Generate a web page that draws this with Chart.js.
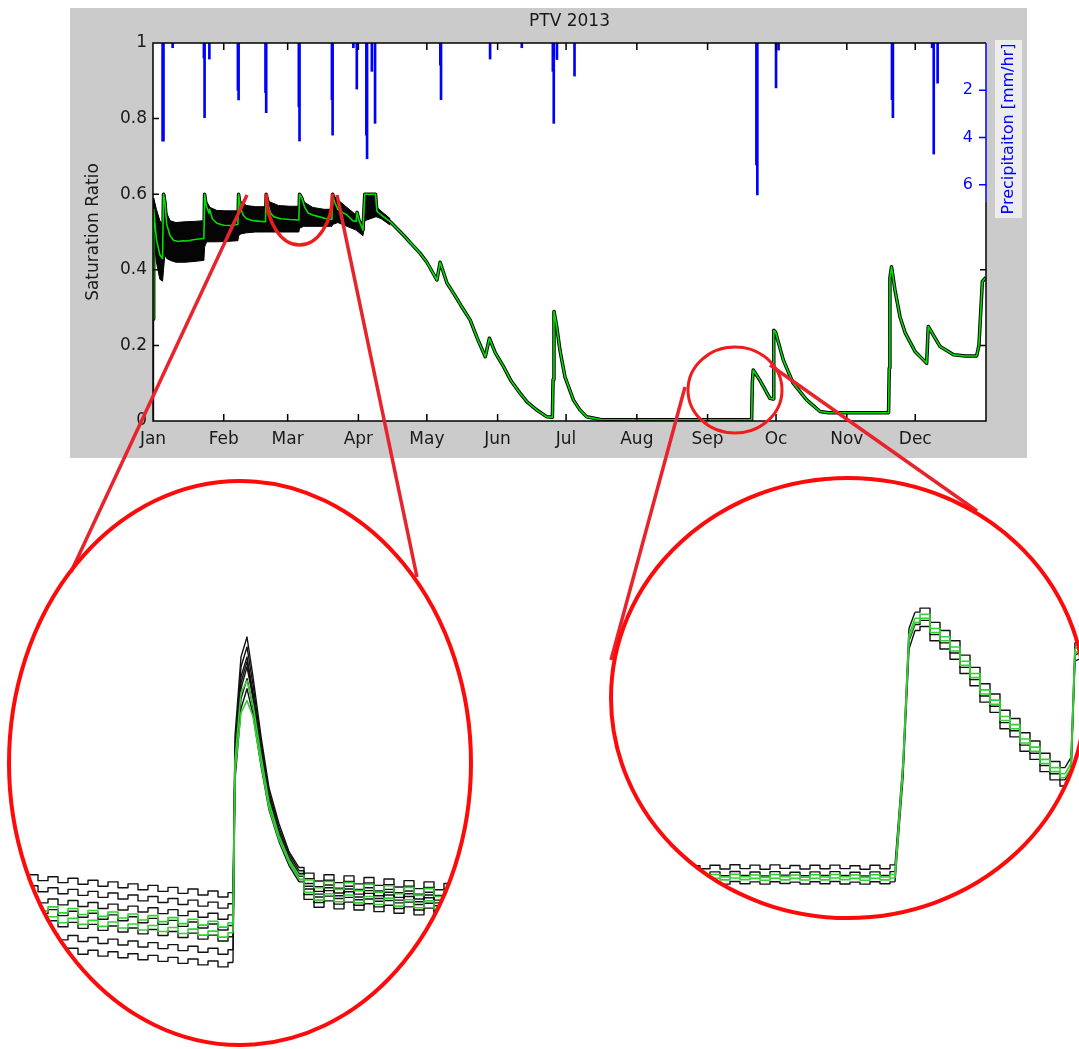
<!DOCTYPE html>
<html>
<head>
<meta charset="utf-8">
<title>PTV 2013</title>
<script src="https://cdn.jsdelivr.net/npm/chart.js@4.4.1/dist/chart.umd.min.js"></script>
<style>
  html, body { margin: 0; padding: 0; background: #fff; }
  #page { position: relative; width: 1079px; height: 1049px; overflow: hidden; }
  canvas { position: absolute; }
  #main { left: 70px; top: 8px; }
  #zoomA { left: 8px; top: 480px; clip-path: ellipse(230px 281px at 232px 283px); }
  #zoomB { left: 610px; top: 477px; clip-path: ellipse(236px 219px at 238px 221px); }
  svg { position: absolute; left: 0; top: 0; }
</style>
</head>
<body>
<div id="page">
  <canvas id="main" width="957" height="450"></canvas>
  <canvas id="zoomA" width="465" height="566"></canvas>
  <canvas id="zoomB" width="469" height="442"></canvas>
  <svg width="1079" height="1049">
    <defs><clipPath id="below06"><rect x="0" y="194" width="1079" height="900"/></clipPath></defs>
    <g fill="none">
      <ellipse cx="299.5" cy="195" rx="33" ry="50" stroke="#f01c1c" stroke-width="3.5" clip-path="url(#below06)"/>
      <ellipse cx="735" cy="390" rx="47" ry="43" stroke="#f01c1c" stroke-width="3"/>
      <line x1="247" y1="195" x2="71" y2="572" stroke="#e8232c" stroke-width="3.5"/>
      <line x1="337" y1="195" x2="417" y2="577" stroke="#e8232c" stroke-width="3.5"/>
      <line x1="685" y1="387" x2="611" y2="660" stroke="#e8232c" stroke-width="3.5"/>
      <line x1="770" y1="365" x2="977" y2="511" stroke="#e8232c" stroke-width="3.5"/>
      <ellipse cx="240" cy="763" rx="231" ry="282" stroke="#ff0a0a" stroke-width="4"/>
      <ellipse cx="848" cy="698" rx="237" ry="220" stroke="#ff0a0a" stroke-width="4"/>
    </g>
  </svg>
</div>
<script>
// ---- main panel: day of year 2013 ----
const monthNames = ['Jan', 'Feb', 'Mar', 'Apr', 'May', 'Jun', 'Jul', 'Aug', 'Sep', 'Oc', 'Nov', 'Dec'];
const monthStartDays = [0, 31, 59, 90, 120, 151, 181, 212, 243, 273, 304, 334];
const satTicks = [0, 0.2, 0.4, 0.6, 0.8, 1];
const precipTicks = [2, 4, 6];

const precipDays = [4.2, 4.6, 8.6, 22.3, 22.6, 24.7, 37.2, 37.5, 49.3, 49.6, 63.9, 64.2, 78.4, 78.7, 87.8, 89.3,
  93.5, 93.8, 95.9, 97.3, 125.9, 126.2, 147.7, 161.6, 175.2, 175.6, 177.0, 184.7, 264.4, 264.8, 273.0, 274.1,
  323.8, 324.2, 341.4, 342.1, 343.8];
const precipMm = [4.15, 4.15, 0.2, 0.64, 3.16, 0.68, 2.0, 2.41, 2.1, 2.95, 2.7, 4.15, 2.4, 3.9, 0.2, 1.95,
  3.9, 4.9, 1.2, 3.4, 0.93, 2.4, 0.68, 0.2, 1.2, 3.4, 0.7, 1.4, 5.16, 6.43, 1.9, 0.3,
  2.4, 3.16, 0.2, 4.7, 1.7];

const satDays = [0, 0.3, 1.5, 3.0, 4.2, 4.6, 5.2, 6.0, 7.5, 9, 11, 13, 15, 17, 19, 22.3, 22.6, 23.3, 24.5, 24.8,
  26, 28, 31, 34, 37.2, 37.5, 38.3, 39.5, 41, 44, 47, 49.3, 49.6, 50.5, 51.5, 53, 56, 60, 63.9, 64.2,
  65.2, 66.5, 68, 70, 73, 76, 78.4, 78.7, 79.5, 81, 83, 85, 87.5, 89.0, 89.4, 90.3, 92.0, 92.8, 97.5, 98.1,
  100, 104, 110, 113, 117, 120, 124.4, 125.8, 128.8, 132, 135, 139, 142, 145.6, 147.4, 150, 153.6, 157, 160.9, 164,
  168.2, 172.6, 175.0, 175.3, 175.7, 176.9, 178.3, 180.5, 184.2, 187, 190, 196, 230, 262.3, 262.6, 263.0, 265.9, 270.3, 271.7, 272.0,
  272.8, 276.2, 280.5, 286.4, 292.3, 296, 322.3, 322.6, 322.9, 323.6, 325.1, 327.3, 329.6, 334, 337, 339, 339.7, 344.9,
  350.8, 356, 360.9, 361.9, 363.4, 365];
const satMedian = [0.27, 0.56, 0.48, 0.44, 0.43, 0.60, 0.58, 0.52, 0.49, 0.478, 0.475, 0.477, 0.476, 0.479, 0.481, 0.483, 0.60, 0.57, 0.55, 0.56,
  0.535, 0.523, 0.518, 0.517, 0.52, 0.60, 0.565, 0.545, 0.535, 0.53, 0.528, 0.527, 0.60, 0.57, 0.55, 0.54, 0.535, 0.533, 0.532, 0.60,
  0.59, 0.565, 0.55, 0.545, 0.54, 0.535, 0.533, 0.60, 0.58, 0.56, 0.552, 0.545, 0.53, 0.528, 0.552, 0.53, 0.505, 0.60, 0.60, 0.555,
  0.545, 0.527, 0.49, 0.47, 0.444, 0.42, 0.373, 0.42, 0.365, 0.335, 0.305, 0.267, 0.22, 0.17, 0.219, 0.18, 0.144, 0.105, 0.073, 0.05,
  0.029, 0.011, 0.010, 0.11, 0.29, 0.25, 0.188, 0.117, 0.056, 0.03, 0.011, 0.004, 0.003, 0.003, 0.10, 0.135, 0.108, 0.06, 0.058, 0.24,
  0.235, 0.161, 0.10, 0.056, 0.025, 0.022, 0.022, 0.14, 0.378, 0.408, 0.347, 0.276, 0.233, 0.183, 0.165, 0.153, 0.25, 0.197,
  0.175, 0.172, 0.172, 0.20, 0.369, 0.38];

// spread of the black ensemble members, Jan - mid Apr
const bandDays = [0, 0.3, 1.5, 3.0, 4.2, 4.6, 5.2, 6.0, 7.5, 10, 14, 18, 22.3, 22.6, 23.5, 25, 28, 32, 37.2, 37.5,
  38.5, 41, 45, 49.3, 49.6, 51, 55, 60, 63.9, 64.2, 66, 70, 75, 78.4, 78.7, 81, 85, 89, 92, 92.8,
  97.5, 98.1, 100, 104];
const bandUpper = [0.27, 0.59, 0.56, 0.53, 0.52, 0.60, 0.60, 0.55, 0.53, 0.525, 0.527, 0.528, 0.53, 0.60, 0.58, 0.565, 0.557, 0.556, 0.556, 0.60,
  0.58, 0.57, 0.567, 0.567, 0.60, 0.58, 0.57, 0.568, 0.568, 0.60, 0.58, 0.565, 0.56, 0.56, 0.60, 0.585, 0.565, 0.545, 0.52, 0.60,
  0.60, 0.565, 0.555, 0.535];
const bandLower = [0.0, 0.50, 0.42, 0.375, 0.37, 0.40, 0.44, 0.43, 0.425, 0.42, 0.42, 0.422, 0.425, 0.46, 0.474, 0.474, 0.474, 0.475, 0.477, 0.49,
  0.495, 0.498, 0.50, 0.50, 0.50, 0.50, 0.50, 0.50, 0.50, 0.51, 0.515, 0.515, 0.515, 0.515, 0.52, 0.525, 0.515, 0.505, 0.49, 0.53,
  0.54, 0.54, 0.535, 0.518];

// ---- left inset: mid-March event ----
const zoomADays = [53, 53.5, 54, 54.5, 55, 55.5, 56, 56.5, 57, 57.5, 58, 58.5, 59, 59.5, 60, 60.5, 61, 61.5, 62, 62.5, 63, 63.5, 64,
  64.1, 64.4, 64.7, 65.0, 65.4, 65.8, 66.3, 66.8, 67.3,
  67.8, 68.3, 68.8, 69.3, 69.8, 70.3, 70.8, 71.3, 71.8, 72.3, 72.8, 73.3, 73.8, 74.3, 74.8, 75.3, 75.8];
const zoomABlack1 = [.5406, .5391, .5402, .5387, .5397, .5382, .5393, .5378, .5388, .5373, .5384, .5369, .5379, .5364, .5375, .5360, .5370, .5355, .5366, .5351, .5361, .5346, .5357,
  .5750, .5950, .6000, .5900, .5750, .5620, .5530, .5460, .5420,
  .5406, .5386, .5402, .5382, .5399, .5379, .5395, .5375, .5391, .5371, .5387, .5367, .5384, .5364, .5380, .5360, .5376];
const zoomABlack2 = [.5378, .5363, .5374, .5359, .5369, .5354, .5365, .5350, .5360, .5345, .5356, .5341, .5351, .5336, .5347, .5332, .5342, .5327, .5338, .5323, .5333, .5318, .5329,
  .5720, .5925, .5975, .5880, .5735, .5610, .5520, .5455, .5412,
  .5392, .5372, .5388, .5368, .5385, .5365, .5381, .5361, .5377, .5357, .5373, .5353, .5370, .5350, .5366, .5346, .5362];
const zoomABlack3 = [.5350, .5335, .5346, .5331, .5341, .5326, .5337, .5322, .5332, .5317, .5328, .5313, .5323, .5308, .5319, .5304, .5314, .5299, .5310, .5295, .5305, .5290, .5301,
  .5700, .5900, .5950, .5860, .5720, .5600, .5512, .5448, .5405,
  .5380, .5360, .5376, .5356, .5373, .5353, .5369, .5349, .5365, .5345, .5361, .5341, .5358, .5338, .5354, .5334, .5350];
const zoomABlack7 = [.5323, .5308, .5319, .5304, .5314, .5299, .5310, .5295, .5305, .5290, .5301, .5286, .5296, .5281, .5292, .5277, .5287, .5272, .5283, .5268, .5278, .5263, .5274,
  .5690, .5885, .5938, .5852, .5712, .5595, .5508, .5444, .5401,
  .5373, .5353, .5369, .5349, .5366, .5346, .5362, .5342, .5358, .5338, .5354, .5334, .5351, .5331, .5347, .5327, .5343];
const zoomABlack4 = [.5295, .5280, .5291, .5276, .5286, .5271, .5282, .5267, .5277, .5262, .5273, .5258, .5268, .5253, .5264, .5249, .5259, .5244, .5255, .5240, .5250, .5235, .5246,
  .5680, .5870, .5925, .5845, .5705, .5590, .5505, .5440, .5398,
  .5366, .5346, .5362, .5342, .5359, .5339, .5355, .5335, .5351, .5331, .5347, .5327, .5344, .5324, .5340, .5320, .5336];
const zoomABlack5 = [.5262, .5247, .5258, .5243, .5253, .5238, .5249, .5234, .5244, .5229, .5240, .5225, .5235, .5220, .5231, .5216, .5226, .5211, .5222, .5207, .5217, .5202, .5213,
  .5660, .5845, .5895, .5825, .5690, .5578, .5495, .5432, .5390,
  .5352, .5332, .5348, .5328, .5345, .5325, .5341, .5321, .5337, .5317, .5333, .5313, .5330, .5310, .5326, .5306, .5322];
const zoomABlack6 = [.5230, .5215, .5226, .5211, .5221, .5206, .5217, .5202, .5212, .5197, .5208, .5193, .5203, .5188, .5199, .5184, .5194, .5179, .5190, .5175, .5185, .5170, .5181,
  .5640, .5820, .5870, .5805, .5675, .5565, .5485, .5425, .5384,
  .5340, .5320, .5336, .5316, .5333, .5313, .5329, .5309, .5325, .5305, .5321, .5301, .5318, .5298, .5314, .5294, .5310];
const zoomAGreen1 = [.5330, .5315, .5326, .5311, .5321, .5306, .5317, .5302, .5312, .5297, .5308, .5293, .5303, .5288, .5299, .5284, .5294, .5279, .5290, .5275, .5285, .5270, .5281,
  .5690, .5860, .5890, .5830, .5700, .5585, .5500, .5440, .5400,
  .5389, .5369, .5385, .5365, .5382, .5362, .5378, .5358, .5374, .5354, .5370, .5350, .5367, .5347, .5363, .5343, .5359];
const zoomAGreen2 = [.5305, .5290, .5301, .5286, .5296, .5281, .5292, .5277, .5287, .5272, .5283, .5268, .5278, .5263, .5274, .5259, .5269, .5254, .5265, .5250, .5260, .5245, .5256,
  .5660, .5810, .5840, .5800, .5680, .5570, .5490, .5432, .5390,
  .5358, .5338, .5354, .5334, .5351, .5331, .5347, .5327, .5343, .5323, .5339, .5319, .5336, .5316, .5332, .5312, .5328];

// ---- right inset: late-September event ----
const zoomBDays = [252, 252.5, 253, 253.5, 254, 254.5, 255, 255.5, 256, 256.5, 257, 257.5, 258, 258.5, 259, 259.5, 260, 260.5, 261, 261.5, 262,
  262.4, 262.7, 263.0, 263.5, 264.0, 264.5, 265.0, 265.5, 266.0, 266.5, 267.0, 267.5, 268.0, 268.5, 269.0, 269.5, 270.0, 270.5, 270.8, 271.0, 271.2];
const zoomBBlack1 = [.0090, .0075, .0092, .0074, .0095, .0076, .0093, .0073, .0094, .0077, .0091, .0074, .0092, .0075, .0093, .0076, .0090, .0073, .0092, .0075, .0094,
  .0600, .1250, .1330, .1350, .1280, .1240, .1190, .1120, .1060, .0980, .0930, .0850, .0810, .0740, .0700, .0640, .0600, .0570, .0620, .1180, .1190];
const zoomBBlack2 = [.0058, .0042, .0060, .0041, .0062, .0043, .0059, .0040, .0061, .0044, .0058, .0041, .0060, .0042, .0061, .0043, .0058, .0040, .0060, .0042, .0061,
  .0560, .1190, .1270, .1290, .1220, .1180, .1130, .1060, .1000, .0920, .0870, .0790, .0750, .0680, .0640, .0580, .0540, .0510, .0560, .1120, .1130];
const zoomBBlack3 = [.0010, .0001, .0012, .0000, .0013, .0002, .0011, .0000, .0012, .0003, .0010, .0001, .0012, .0002, .0013, .0001, .0010, .0000, .0012, .0002, .0011,
  .0520, .1150, .1240, .1260, .1190, .1150, .1100, .1030, .0970, .0890, .0840, .0760, .0720, .0650, .0610, .0550, .0510, .0480, .0530, .1090, .1100];
const zoomBGreen1 = [.0046, .0034, .0047, .0035, .0048, .0036, .0045, .0033, .0047, .0036, .0045, .0034, .0046, .0035, .0047, .0036, .0045, .0033, .0046, .0035, .0047,
  .0580, .1220, .1300, .1320, .1250, .1210, .1160, .1090, .1030, .0950, .0900, .0820, .0780, .0710, .0670, .0610, .0570, .0540, .0590, .1150, .1160];
const zoomBGreen2 = [.0028, .0020, .0029, .0021, .0030, .0022, .0028, .0019, .0029, .0021, .0028, .0020, .0029, .0021, .0030, .0022, .0028, .0019, .0029, .0021, .0030,
  .0570, .1200, .1280, .1300, .1230, .1190, .1140, .1070, .1010, .0930, .0880, .0800, .0760, .0690, .0650, .0590, .0550, .0520, .0570, .1130, .1140];

const FONT = '"DejaVu Sans", "Liberation Sans", sans-serif';
const BLUE = '#0000ff';
const GREEN = '#00e000';

function pts(xs, ys) {
  return xs.map((x, i) => ({ x: x, y: ys[i] }));
}

// gray figure background, MATLAB style box with inward ticks, title texts
const axisFrame = {
  id: 'axisFrame',
  beforeDraw(chart) {
    const { ctx, chartArea: a } = chart;
    ctx.save();
    ctx.fillStyle = '#cbcbcb';
    ctx.fillRect(0, 0, chart.width, chart.height);
    ctx.fillStyle = '#ffffff';
    ctx.fillRect(a.left, a.top, a.right - a.left, a.bottom - a.top);
    ctx.fillStyle = '#ececec';
    ctx.fillRect(a.right + 9, a.top - 3, 27, 178);
    ctx.restore();
  },
  afterDatasetsDraw(chart) {
    const { ctx, chartArea: a, scales } = chart;
    const blueEnd = scales.yP.getPixelForValue(6.7);
    ctx.save();
    ctx.lineWidth = 1.5;
    ctx.strokeStyle = '#000';
    ctx.beginPath();
    ctx.moveTo(a.right, blueEnd);
    ctx.lineTo(a.right, a.bottom);
    ctx.lineTo(a.left, a.bottom);
    ctx.lineTo(a.left, a.top);
    ctx.lineTo(a.right, a.top);
    for (const t of scales.x.ticks) {
      const px = scales.x.getPixelForValue(t.value);
      ctx.moveTo(px, a.bottom); ctx.lineTo(px, a.bottom - 7);
      ctx.moveTo(px, a.top); ctx.lineTo(px, a.top + 7);
    }
    for (const t of scales.y.ticks) {
      const py = scales.y.getPixelForValue(t.value);
      ctx.moveTo(a.left, py); ctx.lineTo(a.left + 6, py);
      if (py > blueEnd) { ctx.moveTo(a.right, py); ctx.lineTo(a.right - 6, py); }
    }
    ctx.stroke();

    ctx.strokeStyle = BLUE;
    ctx.fillStyle = BLUE;
    ctx.font = '16px ' + FONT;
    ctx.textAlign = 'right';
    ctx.textBaseline = 'middle';
    ctx.beginPath();
    ctx.moveTo(a.right, a.top);
    ctx.lineTo(a.right, blueEnd);
    for (const t of scales.yP.ticks) {
      const py = scales.yP.getPixelForValue(t.value);
      ctx.moveTo(a.right, py); ctx.lineTo(a.right - 7, py);
      ctx.fillText(String(t.value), a.right - 13, py);
    }
    ctx.stroke();

    ctx.fillStyle = '#1a1a1a';
    ctx.font = '17px ' + FONT;
    ctx.textAlign = 'center';
    ctx.fillText('PTV 2013', (a.left + a.right) / 2, 14);

    ctx.translate(a.right + 22.5, a.top + 86);
    ctx.rotate(-Math.PI / 2);
    ctx.fillStyle = BLUE;
    ctx.font = '16px ' + FONT;
    ctx.fillText('Precipitaiton [mm/hr]', 0, 0);
    ctx.restore();
  }
};

new Chart(document.getElementById('main'), {
  type: 'line',
  data: {
    datasets: [{
      label: 'median',
      data: pts(satDays, satMedian),
      borderColor: GREEN,
      borderWidth: 1.6,
      yAxisID: 'y',
      order: 0
    }, {
      label: 'ensemble',
      data: pts(satDays, satMedian),
      borderColor: '#000',
      borderWidth: 3.5,
      yAxisID: 'y',
      order: 1
    }, {
      label: 'ensemble min',
      data: pts(bandDays, bandLower),
      borderColor: '#000',
      borderWidth: 1,
      fill: false,
      yAxisID: 'y',
      order: 2
    }, {
      label: 'ensemble max',
      data: pts(bandDays, bandUpper),
      borderColor: '#000',
      borderWidth: 1,
      backgroundColor: '#050505',
      fill: '-1',
      yAxisID: 'y',
      order: 2
    }, {
      type: 'bar',
      label: 'precipitation',
      data: pts(precipDays, precipMm),
      backgroundColor: BLUE,
      barThickness: 2,
      xAxisID: 'x',
      yAxisID: 'yP',
      order: 3
    }]
  },
  options: {
    responsive: false,
    animation: false,
    events: [],
    layout: { padding: { top: 35, left: 0, right: 0, bottom: 0 } },
    elements: { point: { radius: 0 }, line: { tension: 0, borderJoinStyle: 'round' } },
    plugins: { legend: { display: false }, tooltip: { enabled: false } },
    scales: {
      x: {
        type: 'linear',
        min: 0,
        max: 365,
        offset: false,
        grid: { display: false, drawTicks: false },
        border: { display: false },
        afterBuildTicks: s => { s.ticks = monthStartDays.map(v => ({ value: v })); },
        ticks: {
          autoSkip: false,
          maxRotation: 0,
          padding: 8,
          color: '#1a1a1a',
          font: { family: FONT, size: 17 },
          callback: (v, i) => monthNames[i]
        },
        afterFit: s => { s.height = 37; }
      },
      y: {
        position: 'left',
        min: 0,
        max: 1,
        grid: { display: false, drawTicks: false },
        border: { display: false },
        afterBuildTicks: s => { s.ticks = satTicks.map(v => ({ value: v })); },
        ticks: {
          padding: 6,
          color: '#1a1a1a',
          font: { family: FONT, size: 17 },
          callback: v => (v === 0 || v === 1) ? String(v) : v.toFixed(1)
        },
        title: {
          display: true,
          text: 'Saturation Ratio',
          color: '#1a1a1a',
          font: { family: FONT, size: 17 },
          padding: { top: 13, bottom: 0 }
        },
        afterFit: s => { s.width = 83; }
      },
      yP: {
        position: 'right',
        reverse: true,
        min: 0,
        max: 16,
        grid: { display: false, drawTicks: false },
        border: { display: false },
        afterBuildTicks: s => { s.ticks = precipTicks.map(v => ({ value: v })); },
        ticks: { display: false },
        afterFit: s => { s.width = 41; }
      }
    }
  },
  plugins: [axisFrame]
});

// magnified views inside the big red ellipses; plateaus are stepped, storm rises are straight
function zoomChart(id, days, blacks, greens, segments, xr, yr) {
  const datasets = [];
  const addLine = (vals, color, width, order) => {
    segments.forEach(([s, e, stepped]) => {
      datasets.push({
        data: pts(days.slice(s, e + 1), vals.slice(s, e + 1)),
        borderColor: color,
        borderWidth: width,
        stepped: stepped,
        pointRadius: 0,
        fill: false,
        borderJoinStyle: 'round',
        order: order
      });
    });
  };
  greens.forEach(g => addLine(g, '#33cf33', 1.6, 0));
  blacks.forEach(b => addLine(b, '#111', 1.4, 1));
  new Chart(document.getElementById(id), {
    type: 'line',
    data: { datasets: datasets },
    options: {
      responsive: false,
      animation: false,
      events: [],
      layout: { padding: 0 },
      plugins: { legend: { display: false }, tooltip: { enabled: false } },
      scales: {
        x: { type: 'linear', display: false, min: xr[0], max: xr[1] },
        y: { display: false, min: yr[0], max: yr[1] }
      }
    }
  });
}

zoomChart('zoomA', zoomADays,
  [zoomABlack1, zoomABlack2, zoomABlack3, zoomABlack7, zoomABlack4, zoomABlack5, zoomABlack6],
  [zoomAGreen1, zoomAGreen2],
  [[0, 22, 'middle'], [22, 31, false], [31, 48, 'middle']],
  [52.75, 76.0], [0.4971, 0.6395]);

zoomChart('zoomB', zoomBDays,
  [zoomBBlack1, zoomBBlack2, zoomBBlack3],
  [zoomBGreen1, zoomBGreen2],
  [[0, 20, 'middle'], [20, 23, false], [23, 38, 'middle'], [38, 41, false]],
  [247.75, 271.2], [-0.01705, 0.1991]);
</script>
</body>
</html>
